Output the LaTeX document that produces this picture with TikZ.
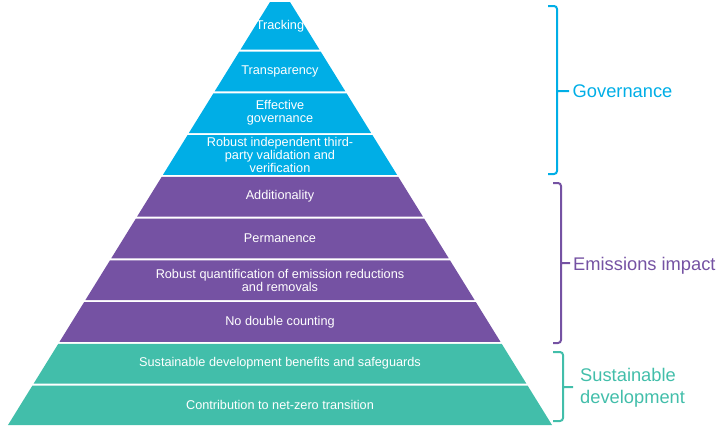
\documentclass[tikz,border=0pt]{standalone}
\usepackage{fontspec}
\setmainfont{Liberation Sans}
\definecolor{gov}{RGB}{0,174,230}
\definecolor{emi}{RGB}{117,82,163}
\definecolor{sus}{RGB}{66,190,170}
\begin{document}
\begin{tikzpicture}[x=1pt,y=-1pt,
        band/.style={text=white,align=center,inner sep=0pt,font=\fontsize{12.7}{13}\selectfont},
        group/.style={inner sep=0pt,font=\fontsize{18.3}{22}\selectfont},
        bracket/.style={line width=2pt,rounded corners=3pt}]
    \useasboundingbox (0,0) rectangle (720,429);
    % layers, top to bottom
    \foreach \ya/\yb/\col/\txt [count=\i] in {
            2/49.5/gov/Tracking,
            51.5/91.25/gov/Transparency,
            93.25/133/gov/{Effective\\governance},
            135/174.75/gov/{Robust independent third-\\party validation and\\verification},
            176.75/216.5/emi/Additionality,
            218.5/258.25/emi/Permanence,
            260.25/300/emi/{Robust quantification of emission reductions\\and removals},
            302/341.75/emi/No double counting,
            343.75/383.5/sus/Sustainable development benefits and safeguards,
            385.5/425/sus/Contribution to net-zero transition} {
        \pgfmathsetmacro\wa{10+(\ya-2)*0.6194}
        \pgfmathsetmacro\wb{10+(\yb-2)*0.6194}
        \fill[\col] ({280-\wa},\ya) -- ({280+\wa},\ya) -- ({280+\wb},\yb) -- ({280-\wb},\yb) -- cycle;
        \node[band] (layer\i) at (280,{(\ya+\yb)/2}) {\txt};
    }
    % brackets
    \draw[bracket,gov] (548,6) -- (557,6) -- (557,174) -- (548,174) (557,91) -- (569,91);
    \draw[bracket,emi] (553,183) -- (561,183) -- (561,343) -- (553,343) (561,263) -- (570,263);
    \draw[bracket,sus] (553,352) -- (563,352) -- (563,421) -- (553,421) (563,387) -- (573,387);
    \node[group,text=gov,anchor=base west] (governance) at (572.5,97.5) {Governance};
    \node[group,text=emi,anchor=base west] (emissions) at (573,270) {Emissions impact};
    \node[group,text=sus,anchor=north west,align=left] (sustainable) at (580,368) {Sustainable\\development};
\end{tikzpicture}
\end{document}
